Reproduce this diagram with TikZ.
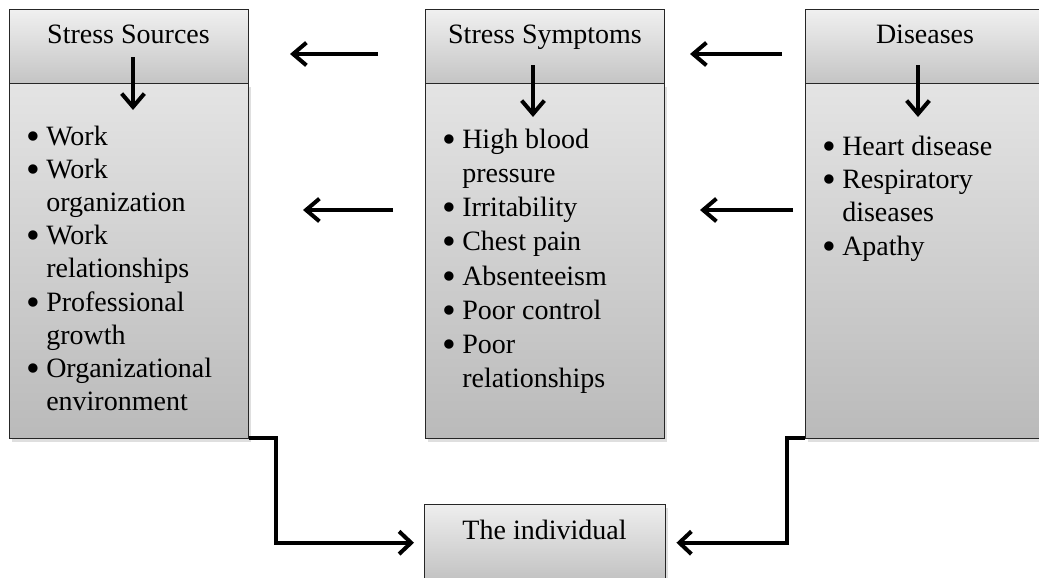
\documentclass[tikz,border=0pt]{standalone}
\usepackage{graphicx}
\usepackage{fontspec}
\setmainfont{Liberation Serif}
\usetikzlibrary{arrows.meta,shadows}
\definecolor{hdtop}{HTML}{F0F0F0}
\definecolor{hdbot}{HTML}{C4C4C4}
\definecolor{bdtop}{HTML}{E4E4E4}
\definecolor{bdbot}{HTML}{BABABA}
\definecolor{intop}{HTML}{EEEEEE}
\definecolor{inbot}{HTML}{C2C2C2}
\newcommand{\itemdot}{\makebox[15pt][l]{\raisebox{-3pt}{\scalebox{1.4}{\textbullet}}}}
\newcommand{\itemgap}{\hspace*{15pt}}
\begin{document}
\begin{tikzpicture}[x=0.75pt,y=-0.75pt,
  box/.style={draw=black!85, line width=1.1pt, inner sep=0pt, anchor=north west,
    minimum width=179.25pt, shading=axis},
  hdr/.style={box, minimum height=55.5pt, top color=hdtop, bottom color=hdbot},
  bdy/.style={box, minimum height=266.25pt, top color=bdtop, bottom color=bdbot,
    drop shadow={opacity=0.25, shadow xshift=1.5pt, shadow yshift=-2.5pt}},
  ttl/.style={anchor=base, inner sep=0pt, font=\fontsize{21}{25}\selectfont},
  lst/.style={anchor=base west, inner sep=0pt},
  arr/.style={line width=3pt, -{Straight Barb[length=10pt,width=17pt,line width=3pt]}},
  conn/.style={line width=3pt, line join=miter, -{Straight Barb[length=9pt,width=17pt,line width=3pt]}},
]
\useasboundingbox (0,0) rectangle (1039,578);
\clip (0,0) rectangle (1039,578);

% bodies
\node[bdy] (b1) at (9,83) {};
\node[bdy] (b2) at (425,83) {};
\node[bdy] (b3) at (805,83) {};
% headers
\node[hdr] (h1) at (9,9) {};
\node[hdr] (h2) at (425,9) {};
\node[hdr] (h3) at (805,9) {};
% individual
\node[box, minimum width=180.75pt, minimum height=57pt, top color=intop, bottom color=inbot,
  drop shadow={opacity=0.25, shadow xshift=1.5pt, shadow yshift=-2.5pt}] (ind) at (424,504) {};

% titles
\node[ttl] (t1) at (128.5,43) {Stress Sources};
\node[ttl] (t2) at (545,43) {Stress Symptoms};
\node[ttl] (t3) at (925,43) {Diseases};
\node[ttl] (t4) at (544.5,539) {The individual};

% lists
\node[lst, font=\fontsize{21}{24.9}\selectfont] (l1) at (26,145) {%
\begin{tabular}[t]{@{}l@{}}
\itemdot Work\\
\itemdot Work\\
\itemgap organization\\
\itemdot Work\\
\itemgap relationships\\
\itemdot Professional\\
\itemgap growth\\
\itemdot Organizational\\
\itemgap environment
\end{tabular}};
\node[lst, font=\fontsize{21}{25.7}\selectfont] (l2) at (442,148) {%
\begin{tabular}[t]{@{}l@{}}
\itemdot High blood\\
\itemgap pressure\\
\itemdot Irritability\\
\itemdot Chest pain\\
\itemdot Absenteeism\\
\itemdot Poor control\\
\itemdot Poor\\
\itemgap relationships
\end{tabular}};
\node[lst, font=\fontsize{21}{25}\selectfont] (l3) at (822,155) {%
\begin{tabular}[t]{@{}l@{}}
\itemdot Heart disease\\
\itemdot Respiratory\\
\itemgap diseases\\
\itemdot Apathy
\end{tabular}};

% down arrows
\coordinate (d1s) at (133,57);  \coordinate (d1e) at (133,110);
\coordinate (d2s) at (533,65);  \coordinate (d2e) at (533,117);
\coordinate (d3s) at (918,65);  \coordinate (d3e) at (918,117);
\draw[arr] (d1s) -- (d1e);
\draw[arr] (d2s) -- (d2e);
\draw[arr] (d3s) -- (d3e);

% horizontal arrows
\coordinate (a1s) at (378,54);  \coordinate (a1e) at (290,54);
\coordinate (a2s) at (782,54);  \coordinate (a2e) at (690,54);
\coordinate (a3s) at (393,210); \coordinate (a3e) at (303,210);
\coordinate (a4s) at (793,210); \coordinate (a4e) at (700,210);
\draw[arr] (a1s) -- (a1e);
\draw[arr] (a2s) -- (a2e);
\draw[arr] (a3s) -- (a3e);
\draw[arr] (a4s) -- (a4e);

% connectors to the individual
\draw[conn, shorten >=7.5pt] ([yshift=1pt]b1.south east) -- ++(27,0) |- (ind.west);
\draw[conn, shorten >=7.5pt] ([yshift=1pt]b3.south west) -- ++(-18,0) |- (ind.east);
\end{tikzpicture}
\end{document}
